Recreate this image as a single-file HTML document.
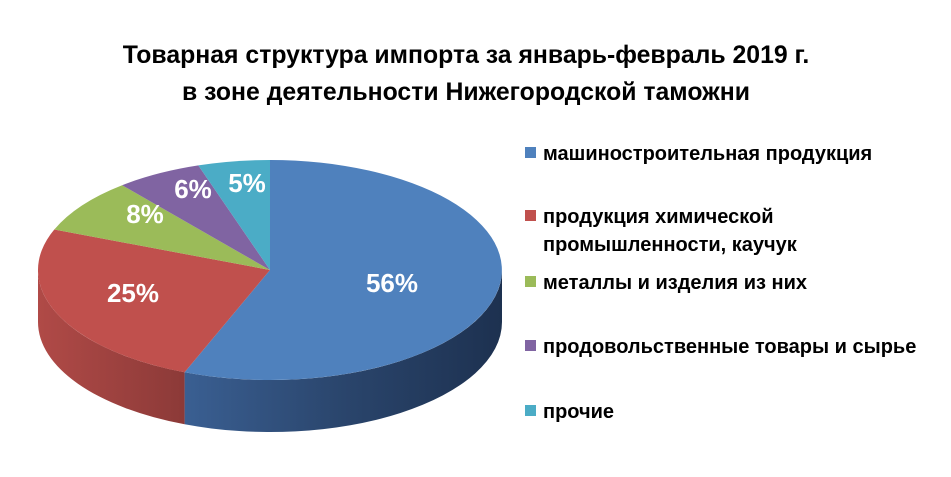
<!DOCTYPE html>
<html><head><meta charset="utf-8"><style>
body{margin:0;background:#fff;width:951px;height:472px;overflow:hidden;font-family:"Liberation Sans",Arial,sans-serif}
</style></head><body>
<svg width="951" height="472" xmlns="http://www.w3.org/2000/svg">
<defs>
<linearGradient id="gb" x1="0" x2="1" y1="0" y2="0"><stop offset="0" stop-color="#3a5f92"/><stop offset="0.5" stop-color="#2a456c"/><stop offset="1" stop-color="#1d3150"/></linearGradient>
<linearGradient id="gr" x1="0" x2="1" y1="0" y2="0"><stop offset="0" stop-color="#b04a47"/><stop offset="1" stop-color="#8c3a38"/></linearGradient>
</defs>
<g font-weight="bold" font-size="24.8" text-anchor="middle" fill="#000">
<text x="466" y="63">Товарная структура импорта за январь-февраль 2019 г.</text>
<text x="466" y="100">в зоне деятельности Нижегородской таможни</text>
</g>
<path d="M502,270 A232,110 0 0 1 184.6,372.3 L184.6,424.3 A232,110 0 0 0 502,322 Z" fill="url(#gb)"/>
<path d="M184.6,372.3 A232,110 0 0 1 38,270 L38,322 A232,110 0 0 0 184.6,424.3 Z" fill="url(#gr)"/>
<path d="M270,270 L270,160 A232,110 0 1 1 184.6,372.3 Z" fill="#4F81BD"/>
<path d="M270,270 L184.6,372.3 A232,110 0 0 1 54.3,229.5 Z" fill="#C0504D"/>
<path d="M270,270 L54.3,229.5 A232,110 0 0 1 122.1,185.2 Z" fill="#9BBB59"/>
<path d="M270,270 L122.1,185.2 A232,110 0 0 1 198.3,165.4 Z" fill="#8064A2"/>
<path d="M270,270 L198.3,165.4 A232,110 0 0 1 270,160 Z" fill="#4BACC6"/>
<g font-weight="bold" font-size="26" fill="#fff" text-anchor="middle">
<text x="392" y="292">56%</text>
<text x="133" y="302">25%</text>
<text x="145" y="223">8%</text>
<text x="193" y="198">6%</text>
<text x="247" y="192">5%</text>
</g>
<g font-size="20" font-weight="bold" fill="#000">
<rect x="525" y="147" width="11" height="11" fill="#4F81BD"/><text x="543" y="160">машиностроительная продукция</text>
<rect x="525" y="210" width="11" height="11" fill="#C0504D"/><text x="543" y="223">продукция химической</text><text x="543" y="251">промышленности, каучук</text>
<rect x="525" y="276" width="11" height="11" fill="#9BBB59"/><text x="543" y="289">металлы и изделия из них</text>
<rect x="525" y="340" width="11" height="11" fill="#8064A2"/><text x="543" y="353">продовольственные товары и сырье</text>
<rect x="525" y="405" width="11" height="11" fill="#4BACC6"/><text x="543" y="418">прочие</text>
</g>
</svg>
</body></html>
